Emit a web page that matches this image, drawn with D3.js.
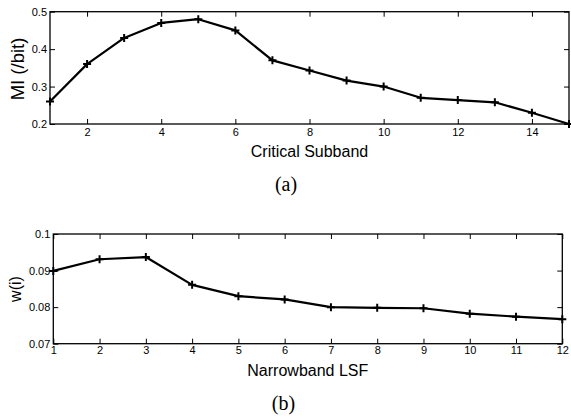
<!DOCTYPE html>
<html><head><meta charset="utf-8">
<script src="https://cdn.jsdelivr.net/npm/d3@7"></script>
<style>body{margin:0;background:#fff}svg{display:block}</style>
</head><body>
<svg id="c" width="571" height="417"></svg>
<script>
const subbands = [1,2,3,4,5,6,7,8,9,10,11,12,13,14,15];
const miValues = [0.26,0.36,0.43,0.47,0.48,0.45,0.37,0.343,0.316,0.30,0.270,0.264,0.258,0.230,0.20];
const lsfIndex = [1,2,3,4,5,6,7,8,9,10,11,12];
const wValues = [0.0899,0.0931,0.0937,0.0861,0.0830,0.0821,0.0800,0.0798,0.0797,0.0782,0.0774,0.0767];
const xTicksA = [2,4,6,8,10,12,14];
const yTicksA = [0.2,0.3,0.4,0.5];
const xTicksB = [1,2,3,4,5,6,7,8,9,10,11,12];
const yTicksB = [0.07,0.08,0.09,0.1];

const svg = d3.select("#c");
const sans = "'Liberation Sans', Arial, Helvetica, sans-serif";
const serif = "'Liberation Serif', 'Times New Roman', serif";

function panel(o){
  const g = svg.append("g");
  const x = d3.scaleLinear().domain(o.xd).range([o.l, o.r]);
  const y = d3.scaleLinear().domain(o.yd).range([o.b, o.t]);
  const tl = 5;
  const axB = g.append("g").attr("transform",`translate(0,${o.b})`)
    .call(d3.axisBottom(x).tickValues(o.xt).tickSizeInner(-tl).tickSizeOuter(0).tickPadding(o.xpad).tickFormat(d3.format("")));
  const axT = g.append("g").attr("transform",`translate(0,${o.t})`)
    .call(d3.axisTop(x).tickValues(o.xt).tickSizeInner(-tl).tickSizeOuter(0).tickFormat(""));
  const axL = g.append("g").attr("transform",`translate(${o.l},0)`)
    .call(d3.axisLeft(y).tickValues(o.yt).tickSizeInner(-tl).tickSizeOuter(0).tickPadding(3).tickFormat(d=>String(d)));
  const axR = g.append("g").attr("transform",`translate(${o.r},0)`)
    .call(d3.axisRight(y).tickValues(o.yt).tickSizeInner(-tl).tickSizeOuter(0).tickFormat(""));
  [axB,axT,axL,axR].forEach(a=>{
    a.select(".domain").remove();
    a.selectAll("line").attr("stroke","#000").attr("stroke-width",1);
    a.selectAll("text").attr("font-family",sans).attr("font-size",11).attr("fill","#000");
  });
  g.append("rect").attr("x",o.l).attr("y",o.t).attr("width",o.r-o.l).attr("height",o.b-o.t)
    .attr("fill","none").attr("stroke","#000").attr("stroke-width",1.3);
  const data = o.xs.map((v,i)=>[v,o.ys[i]]);
  g.append("path").datum(data)
    .attr("d",d3.line().x(d=>x(d[0])).y(d=>y(d[1])))
    .attr("fill","none").attr("stroke","#000").attr("stroke-width",2.2).attr("stroke-linejoin","round");
  const m = 4;
  g.append("g").selectAll("path").data(data).join("path")
    .attr("d",d=>`M${x(d[0])-m},${y(d[1])}H${x(d[0])+m}M${x(d[0])},${y(d[1])-m}V${y(d[1])+m}`)
    .attr("stroke","#000").attr("stroke-width",2);
  g.append("text").attr("x",(o.l+o.r)/2).attr("y",o.xlY).attr("text-anchor","middle")
    .attr("font-family",sans).attr("font-size",16).text(o.xl);
  g.append("text").attr("transform",`translate(${o.ylX},${o.ylY}) rotate(-90)`).attr("text-anchor","middle")
    .attr("font-family",sans).attr("font-size",o.ylSize).text(o.yl);
  g.append("text").attr("x",o.capX).attr("y",o.capY).attr("text-anchor","middle")
    .attr("font-family",serif).attr("font-size",20).text(o.cap);
}

panel({xd:[1,15],yd:[0.2,0.5],l:50,r:569,t:11.7,b:124,xt:xTicksA,yt:yTicksA,xs:subbands,ys:miValues,xpad:4,
  xl:"Critical Subband",xlY:157,yl:"MI (/bit)",ylSize:18.5,ylX:23.5,ylY:69,cap:"(a)",capX:286,capY:190.5});
panel({xd:[1,12],yd:[0.07,0.1],l:53.3,r:562.3,t:234,b:343.7,xt:xTicksB,yt:yTicksB,xs:lsfIndex,ys:wValues,xpad:3,
  xl:"Narrowband LSF",xlY:376,yl:"w(i)",ylSize:16,ylX:20.5,ylY:289,cap:"(b)",capX:283.5,capY:410});
</script>
</body></html>
